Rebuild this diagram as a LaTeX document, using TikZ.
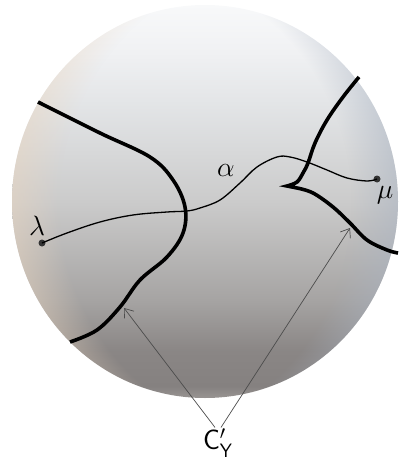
\documentclass[tikz,border=0pt]{standalone}
\usepackage{amsmath,amssymb}
\usetikzlibrary{arrows.meta, positioning, fadings}

% colours of the sphere
\definecolor{sphtop}{HTML}{F8F9FA}
\definecolor{sphhigh}{HTML}{F0F1F3}
\definecolor{sphlight}{HTML}{E3E5E7}
\definecolor{sphmid}{HTML}{CBCBCB}
\definecolor{sphlow}{HTML}{A6A4A3}
\definecolor{sphdeep}{HTML}{8A8685}
\definecolor{sphdark}{HTML}{858180}
\definecolor{sphbot}{HTML}{989492}
\definecolor{rimwarm}{HTML}{EAD6C0}
\definecolor{rimcool}{HTML}{A9B3C2}

\pgfdeclareverticalshading{spherebody}{100bp}{color(0bp)=(sphbot); color(25bp)=(sphbot); color(26.5bp)=(sphdark); color(31bp)=(sphdeep); color(37.5bp)=(sphlow); color(50bp)=(sphmid); color(62.5bp)=(sphlight); color(69bp)=(sphhigh); color(75bp)=(sphtop); color(100bp)=(sphtop)}
\pgfdeclareradialshading{rimmask}{\pgfpoint{0bp}{0bp}}{color(0bp)=(pgftransparent!100); color(20bp)=(pgftransparent!100); color(25bp)=(pgftransparent!35); color(50bp)=(pgftransparent!35)}
\pgfdeclarefading{rimfade}{\pgfuseshading{rimmask}}

\tikzset{
    cutcurve/.style={line width=3.6pt, draw=black, line join=miter},
    pathcurve/.style={line width=1.3pt, draw=black},
    endpoint/.style={circle, fill=black!80, inner sep=0pt, minimum size=7pt},
    ptlabel/.style={font=\fontsize{24}{28}\selectfont, inner sep=1pt, scale=1.12},
    pointer/.style={-{Straight Barb[length=8pt,width=12pt]}, line width=0.7pt, draw=black!70}
}

\begin{document}
\begin{tikzpicture}[x=1pt, y=-1pt]
    \useasboundingbox (0,0) rectangle (400,465);

    % sphere body and rim light
    \shade[shading=spherebody] (205,201.5) ellipse [x radius=193, y radius=196.5];
    \begin{scope}
        \clip (205,201.5) ellipse [x radius=193, y radius=196.5];
        \fill[rimwarm, path fading=rimfade, fit fading=true] (300,201.5) circle [radius=300];
        \fill[rimcool, path fading=rimfade, fit fading=true] (110,201.5) circle [radius=300];
    \end{scope}

    % the two curves of C'_Y
    \draw[cutcurve] plot[smooth, tension=0.6] coordinates {(38,102) (100,133) (150,157) (173,180) (185,207) (183,233) (167,257) (140,280) (120,307) (97,330) (70,342)};
    \draw[cutcurve] plot[smooth, tension=0.6] coordinates {(359,77) (343,97) (327,120) (315,143) (308,163) (303,173) (297,182) (287,186)}
        -- plot[smooth, tension=0.6] coordinates {(297,188) (313,193) (333,207) (350,223) (367,240) (387,250) (398,253)};

    % end points
    \node[endpoint] (lam) at (42,243) {};
    \node[endpoint] (mu) at (377,179) {};
    \node[ptlabel] (lamlabel) at (37,226) {$\lambda$};
    \node[ptlabel] (mulabel) at (385,195) {$\mu$};

    % the path alpha
    \draw[pathcurve] plot[smooth, tension=0.6] coordinates {(lam.center) (67,233) (100,222) (133,215) (167,212) (187,211) (200,208) (220,200) (240,183) (257,167) (277,157) (290,157) (307,162) (327,170) (347,178) (367,181) (mu.center)};
    \node[ptlabel] (alphalabel) at (226,171) {$\alpha$};

    % label and pointers
    \node[ptlabel] (cy) at (218,443) {$\mathsf{C}'_{\mathsf{Y}}$};
    \coordinate (tipL) at (124,308);
    \coordinate (tipR) at (350,228);
    \draw[pointer] ([xshift=-3pt]cy.north) -- (tipL);
    \draw[pointer] ([xshift=3pt]cy.north) -- (tipR);
\end{tikzpicture}
\end{document}
